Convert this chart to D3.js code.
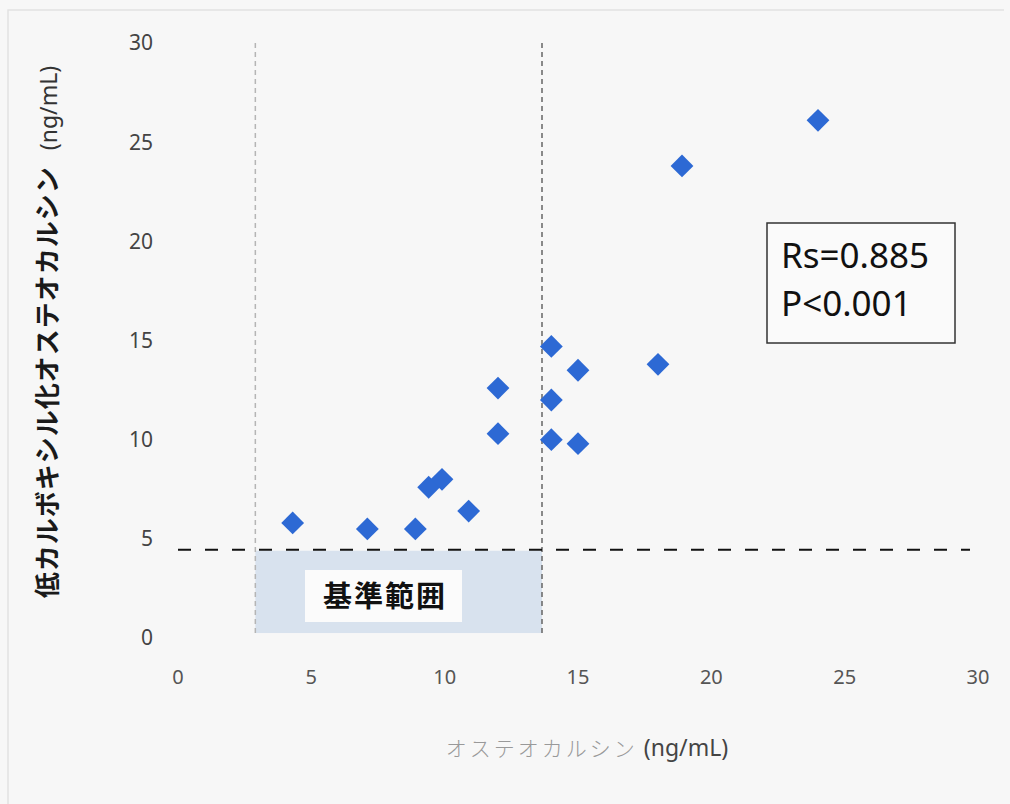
<!DOCTYPE html>
<html>
<head>
<meta charset="utf-8">
<script src="https://cdn.jsdelivr.net/npm/d3@7"></script>
<style>
  body { margin: 0; background: #f7f7f7; }
</style>
</head>
<body>
<div id="chart"></div>
<script>
// osteocalcin (x) vs undercarboxylated osteocalcin (y), ng/mL
const osteocalcin = [4.3, 7.1, 8.9, 9.4, 9.9, 10.9, 12.0, 12.0, 14.0, 14.0, 14.0, 15.0, 15.0, 18.0, 18.9, 24.0];
const ucOsteocalcin = [5.8, 5.5, 5.5, 7.6, 8.0, 6.4, 12.6, 10.3, 14.7, 12.0, 10.0, 13.5, 9.8, 13.8, 23.8, 26.1];
const xTicks = [0, 5, 10, 15, 20, 25, 30];
const yTicks = [0, 5, 10, 15, 20, 25, 30];
const ocRange = [2.9, 13.65];   // reference range of osteocalcin
const ucCutoff = 4.45;          // cut-off of ucOC
const statLines = ["Rs=0.885", "P<0.001"];

const width = 1010;
const height = 804;

const svg = d3.select("#chart")
    .append("svg")
    .attr("width", width)
    .attr("height", height)
    .style("background-color", "#f7f7f7");

// faint frame of the scanned figure
svg.append("path")
    .attr("d", "M8,804 V10 H1004")
    .attr("fill", "none")
    .attr("stroke", "#e2e2e2")
    .attr("stroke-width", 1.5);

const x = d3.scaleLinear().domain([0, 30]).range([178, 978]);
const y = d3.scaleLinear().domain([0, 30]).range([638, 43]);

// reference range box
svg.append("rect")
    .attr("x", x(ocRange[0]))
    .attr("y", y(ucCutoff) + 1)
    .attr("width", x(ocRange[1]) - x(ocRange[0]))
    .attr("height", y(0.25) - y(ucCutoff) - 1)
    .attr("fill", "#d8e2ee");

svg.append("rect")
    .attr("x", 305)
    .attr("y", 570)
    .attr("width", 157)
    .attr("height", 52)
    .attr("fill", "#fbfbfb");

svg.append("text")
    .attr("x", 385)
    .attr("y", 607)
    .attr("text-anchor", "middle")
    .attr("font-family", "'Noto Sans CJK JP', sans-serif")
    .attr("font-weight", "bold")
    .attr("font-size", "29px")
    .attr("letter-spacing", "2px")
    .attr("fill", "#111")
    .text("基準範囲");

// vertical dotted lines
svg.selectAll(".vline")
    .data(ocRange)
    .enter()
    .append("line")
    .attr("class", "vline")
    .attr("x1", d => x(d))
    .attr("x2", d => x(d))
    .attr("y1", y(30))
    .attr("y2", y(0.15))
    .attr("stroke", (d, i) => i === 0 ? "#b5b5b5" : "#666")
    .attr("stroke-width", 1.5)
    .attr("stroke-dasharray", "5,4");

// horizontal cut-off line
svg.append("line")
    .attr("x1", x(0))
    .attr("x2", x(29.7))
    .attr("y1", y(ucCutoff))
    .attr("y2", y(ucCutoff))
    .attr("stroke", "#111")
    .attr("stroke-width", 2)
    .attr("stroke-dasharray", "13,14");

// tick labels
svg.selectAll(".xtick")
    .data(xTicks)
    .enter()
    .append("text")
    .attr("class", "xtick")
    .attr("x", d => x(d))
    .attr("y", 684)
    .attr("text-anchor", "middle")
    .attr("font-family", "'Noto Sans', sans-serif")
    .attr("font-size", "20px")
    .attr("fill", "#555")
    .text(d => d);

svg.selectAll(".ytick")
    .data(yTicks)
    .enter()
    .append("text")
    .attr("class", "ytick")
    .attr("x", 153)
    .attr("y", d => y(d))
    .attr("dy", "0.35em")
    .attr("text-anchor", "end")
    .attr("font-family", "'Noto Sans', sans-serif")
    .attr("font-size", "21px")
    .attr("fill", "#444")
    .text(d => d);

// axis titles
const xTitle = svg.append("text")
    .attr("x", 587)
    .attr("y", 756)
    .attr("text-anchor", "middle")
    .attr("font-family", "'Noto Sans CJK JP', sans-serif")
    .attr("font-size", "21px");
xTitle.append("tspan")
    .attr("fill", "#999")
    .attr("font-weight", 300)
    .attr("letter-spacing", "3px")
    .text("オステオカルシン");
xTitle.append("tspan")
    .attr("fill", "#444")
    .attr("font-family", "'Noto Sans', sans-serif")
    .attr("font-size", "23px")
    .text(" (ng/mL)");

const yTitle = svg.append("text")
    .attr("transform", "translate(57,332) rotate(-90)")
    .attr("text-anchor", "middle")
    .attr("font-family", "'Noto Sans CJK JP', sans-serif")
    .attr("font-size", "26px")
    .attr("fill", "#1a1a1a");
yTitle.append("tspan")
    .attr("font-weight", "bold")
    .attr("letter-spacing", "1px")
    .text("低カルボキシル化オステオカルシン");
yTitle.append("tspan")
    .attr("font-family", "'Noto Sans', sans-serif")
    .attr("font-size", "23px")
    .attr("fill", "#333")
    .attr("dx", 10)
    .text(" (ng/mL)");

// points
const points = osteocalcin.map((v, i) => ({x: v, y: ucOsteocalcin[i]}));
svg.selectAll(".pt")
    .data(points)
    .enter()
    .append("path")
    .attr("class", "pt")
    .attr("d", d3.symbol().type(d3.symbolSquare).size(260))
    .attr("transform", d => `translate(${x(d.x)},${y(d.y)}) rotate(45)`)
    .attr("fill", "#2d69d4");

// stats box
svg.append("rect")
    .attr("x", 767)
    .attr("y", 223)
    .attr("width", 188)
    .attr("height", 120)
    .attr("fill", "#fafafa")
    .attr("stroke", "#333")
    .attr("stroke-width", 1.5);

svg.selectAll(".stat")
    .data(statLines)
    .enter()
    .append("text")
    .attr("class", "stat")
    .attr("x", 781)
    .attr("y", (d, i) => 268 + i * 48)
    .attr("font-family", "'Noto Sans', sans-serif")
    .attr("font-size", "35px")
    .attr("fill", "#111")
    .text(d => d);
</script>
</body>
</html>
